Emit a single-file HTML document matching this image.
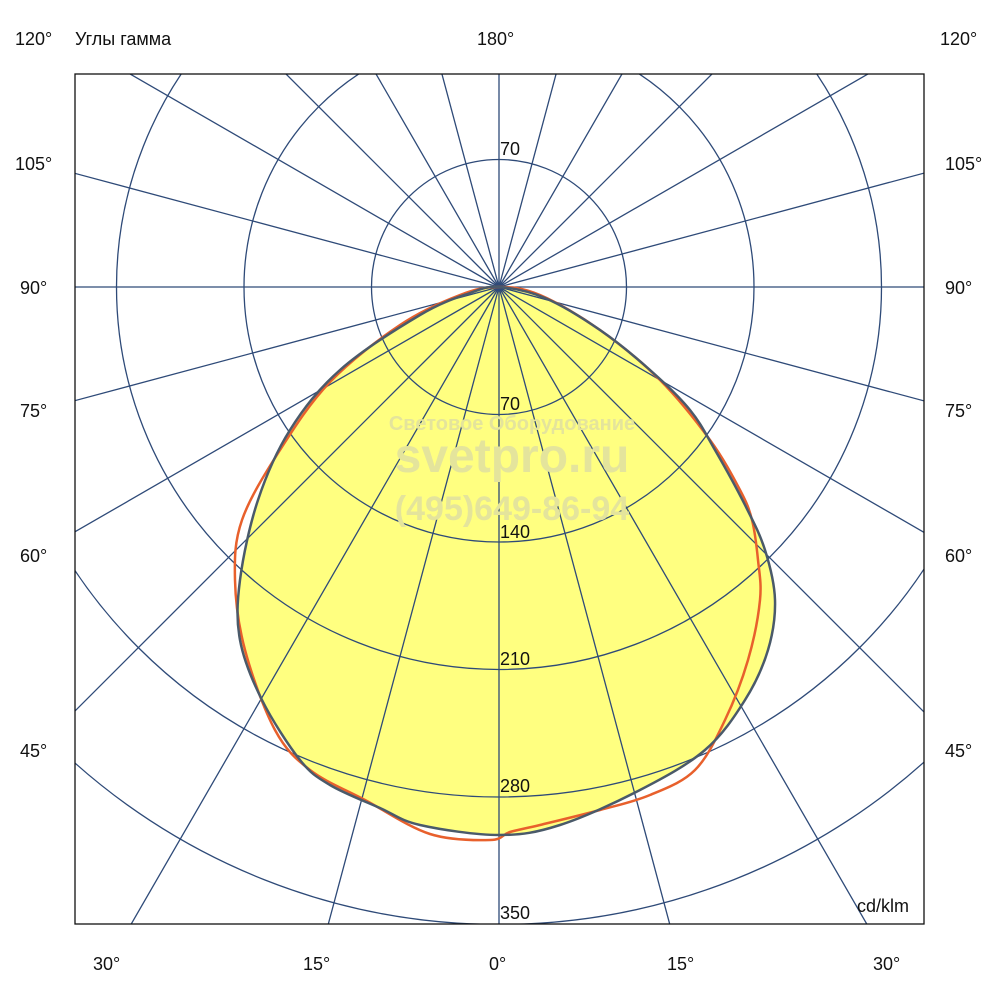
<!DOCTYPE html>
<html><head><meta charset="utf-8"><style>
html,body{margin:0;background:#fff;width:1000px;height:1000px;overflow:hidden}
svg{display:block}
svg text{font-family:"Liberation Sans",sans-serif;font-size:18px;fill:#111}
</style></head><body>
<svg width="1000" height="1000" viewBox="0 0 1000 1000" xmlns="http://www.w3.org/2000/svg">
<defs><clipPath id="c"><rect x="75" y="74" width="849" height="850"/></clipPath></defs>
<g clip-path="url(#c)">
<path id="fill" d="" fill="#ffff80"/>
<g stroke="#2e4a78" stroke-width="1.3" fill="none" id="grid">
<circle cx="499" cy="287" r="127.5"/><circle cx="499" cy="287" r="255"/><circle cx="499" cy="287" r="382.5"/><circle cx="499" cy="287" r="510"/><circle cx="499" cy="287" r="637.5"/>
</g>
<path id="red" d="" fill="none" stroke="#e8602c" stroke-width="2.5"/>
<path id="gray" d="" fill="none" stroke="#4a5a6a" stroke-width="2.5"/>
</g>
<rect x="75" y="74" width="849" height="850" fill="none" stroke="#111" stroke-width="1.3"/>
<g font-weight="bold" text-anchor="middle">
<text x="512" y="430" style="font-size:20px;fill:#e4e49c">Световое Оборудование</text>
<text x="512" y="472" style="font-size:48px;fill:#e4e49c">svetpro.ru</text>
<text x="512" y="520" style="font-size:34px;fill:#e4e49c">(495)649-86-94</text>
</g>
<text x="500" y="155">70</text><text x="500" y="410">70</text><text x="500" y="538">140</text><text x="500" y="665">210</text><text x="500" y="792">280</text><text x="500" y="919">350</text>
<text x="857" y="912">cd/klm</text>
<text x="15" y="45">120°</text><text x="75" y="45">Углы гамма</text><text x="477" y="45">180°</text><text x="940" y="45">120°</text>
<text x="15" y="170">105°</text><text x="945" y="170">105°</text>
<text x="20" y="294">90°</text><text x="945" y="294">90°</text>
<text x="20" y="417">75°</text><text x="945" y="417">75°</text>
<text x="20" y="562">60°</text><text x="945" y="562">60°</text>
<text x="20" y="757">45°</text><text x="945" y="757">45°</text>
<text x="93" y="970">30°</text><text x="303" y="970">15°</text><text x="489" y="970">0°</text><text x="667" y="970">15°</text><text x="873" y="970">30°</text>
</svg>
<script>
var g=document.getElementById('grid'),ns='http://www.w3.org/2000/svg';
for(var a=0;a<360;a+=15){var t=a*Math.PI/180,l=document.createElementNS(ns,'line');
l.setAttribute('x1',499);l.setAttribute('y1',287);l.setAttribute('x2',499+1500*Math.sin(t));l.setAttribute('y2',287-1500*Math.cos(t));g.appendChild(l);}
function cr(p){var d='M'+p[0][0]+','+p[0][1],n=p.length;
for(var i=0;i<n;i++){var p0=p[(i-1+n)%n],p1=p[i],p2=p[(i+1)%n],p3=p[(i+2)%n];
d+=' C'+(p1[0]+(p2[0]-p0[0])/6)+','+(p1[1]+(p2[1]-p0[1])/6)+' '+(p2[0]-(p3[0]-p1[0])/6)+','+(p2[1]-(p3[1]-p1[1])/6)+' '+p2[0]+','+p2[1];}
return d+'Z';}
var G=[[499,287],[545,298],[600,330],[650,370],[690,410],[715,450],[745,505],[765,550],[775,600],[768,650],[745,700],[705,750],[640,790],[560,825],[499,835],[420,825],[380,808],[330,785],[300,760],[262,700],[240,640],[240,580],[258,500],[290,430],[340,370],[420,315],[470,293]];
var R=[[499,287],[540,295],[600,330],[660,380],[710,440],[740,490],[752,520],[758,560],[760,600],[748,660],[725,720],[695,770],[650,795],[600,810],[540,825],[510,832],[490,840],[430,834],[365,800],[310,770],[275,730],[245,650],[235,580],[242,520],[280,450],[330,382],[400,325],[460,295]];
document.getElementById('gray').setAttribute('d',cr(G));
document.getElementById('fill').setAttribute('d',cr(G));
document.getElementById('red').setAttribute('d',cr(R));
</script>
</body></html>
